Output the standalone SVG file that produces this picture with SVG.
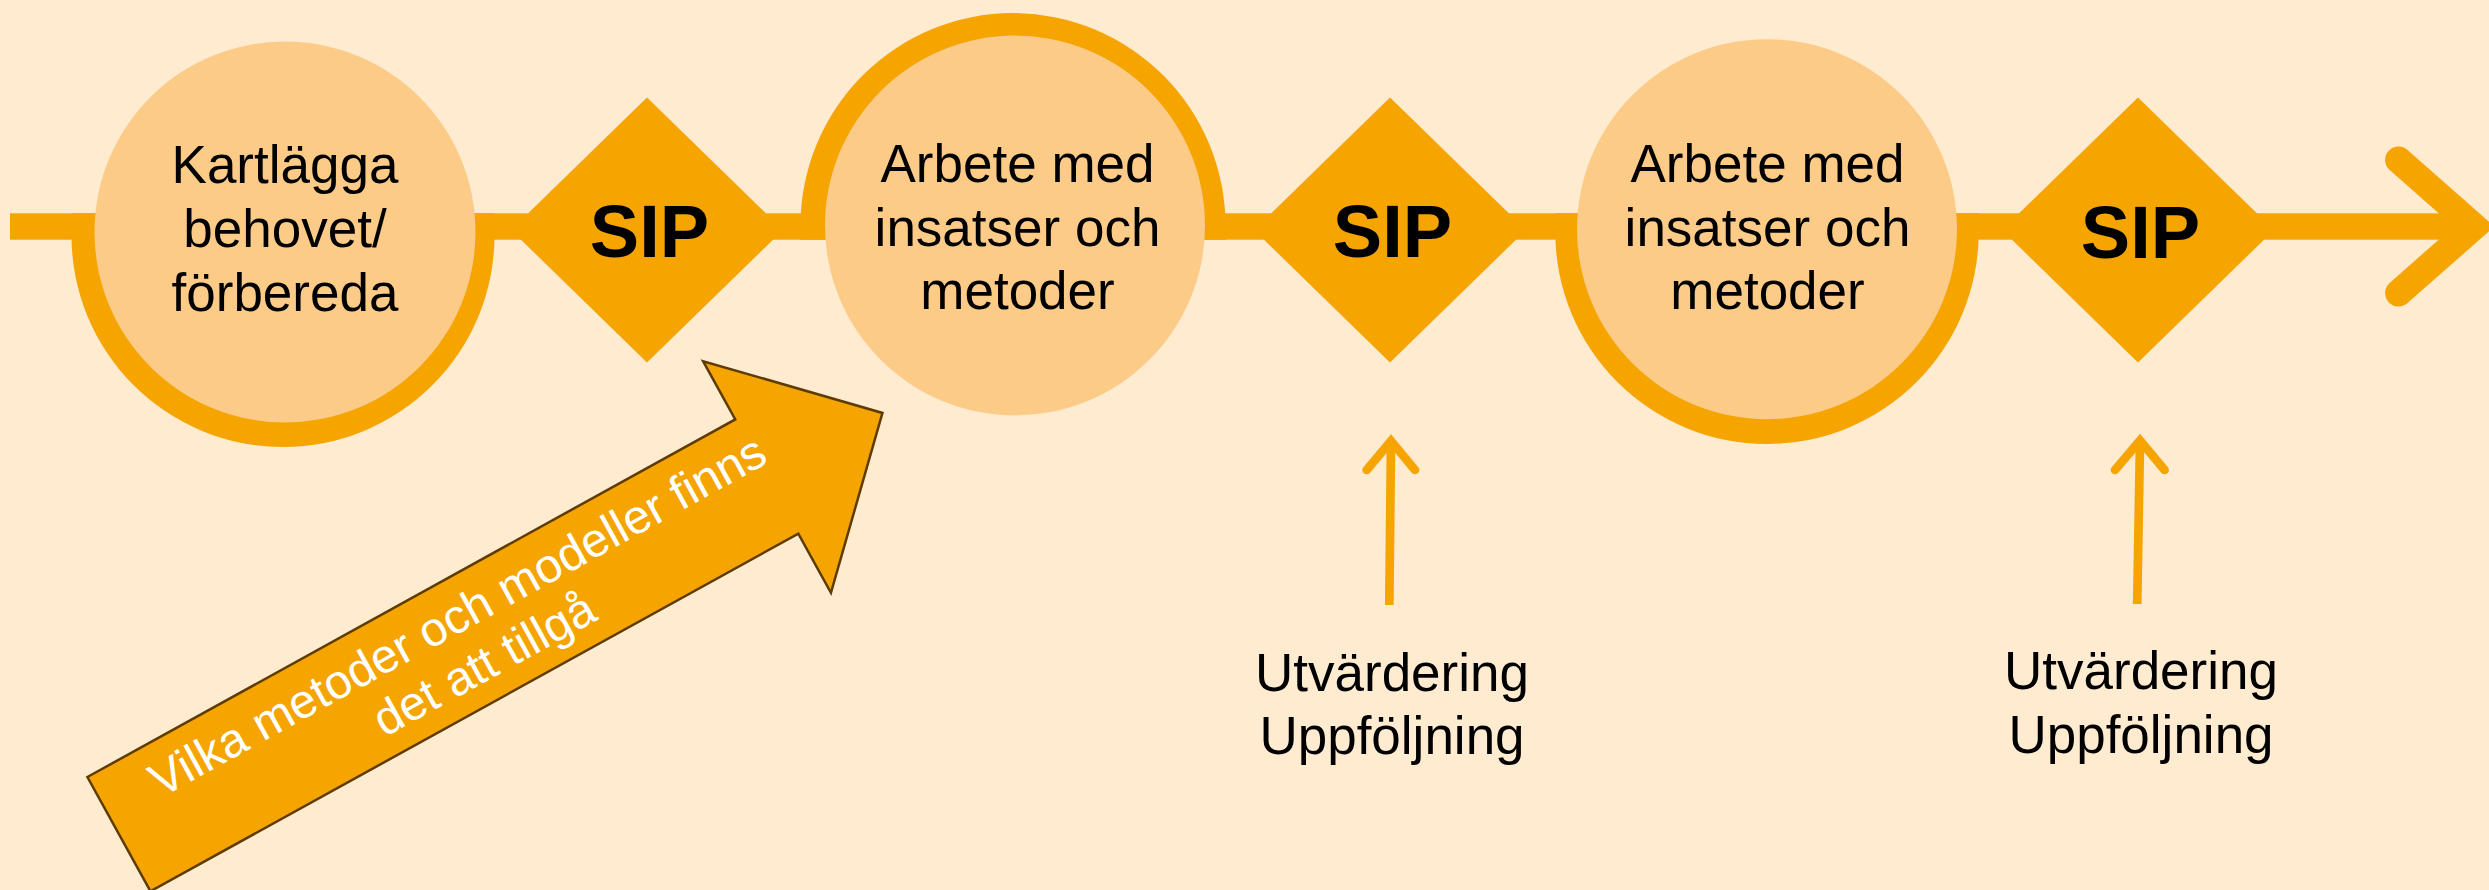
<svg xmlns="http://www.w3.org/2000/svg" width="2489" height="890" viewBox="0 0 2489 890">
  <style>
    .bg { fill: #FEEBD0; }
    .org { fill: #F5A400; }
    .light { fill: #FBCB87; }
    .lbl { font-family: "Liberation Sans", Arial, sans-serif; font-size: 53px; fill: #000000; text-anchor: middle; }
    .sip { font-family: "Liberation Sans", Arial, sans-serif; font-size: 74px; font-weight: bold; fill: #000000; text-anchor: middle; }
    .arrtxt { font-family: "Liberation Sans", Arial, sans-serif; font-size: 48px; fill: #FFFFFF; text-anchor: middle; }
    .thin { fill: none; stroke: #F5A400; stroke-width: 8.7; stroke-linecap: round; stroke-linejoin: miter; }
  </style>
  <rect class="bg" x="0" y="0" width="2489" height="890"/>

  <g id="connectors">
    <!-- main timeline -->
    <rect class="org" x="10" y="213.3" width="2466" height="26.4"/>
    <polyline points="2398.6,160 2474,226.5 2398.6,293" fill="none" stroke="#F5A400" stroke-width="27" stroke-linecap="round" stroke-linejoin="miter"/>
    <!-- ring halves -->
    <path class="org" d="M71.5,235.5 A211.5,211.5 0 0 0 494.5,235.5 L494.5,213.3 L71.5,213.3 Z"/>
    <path class="org" d="M800.5,225.5 A212.5,212.5 0 0 1 1225.5,225.5 L1225.5,239.7 L800.5,239.7 Z"/>
    <path class="org" d="M1555.3,232.5 A211.7,211.7 0 0 0 1978.7,232.5 L1978.7,213.3 L1555.3,213.3 Z"/>
    <!-- evaluation arrows -->
    <line class="thin" x1="1389.3" y1="605" x2="1391" y2="442" style="stroke-linecap:butt"/>
    <polyline class="thin" points="1366.7,470 1391,441 1415,470"/>
    <line class="thin" x1="2137.2" y1="604" x2="2140" y2="441" style="stroke-linecap:butt"/>
    <polyline class="thin" points="2115,470 2140,440.5 2164.6,470"/>
  </g>

  <g id="node-kartlagga">
    <circle class="light" cx="285" cy="232" r="190.5"/>
    <text class="lbl" x="285" y="183.3">Kartlägga</text>
    <text class="lbl" x="285" y="247.3">behovet/</text>
    <text class="lbl" x="285" y="311">förbereda</text>
  </g>

  <g id="node-sip1">
    <polygon class="org" points="647,97.5 783,230 647,362.5 511,230"/>
    <text class="sip" x="649.5" y="256.5">SIP</text>
  </g>

  <g id="node-arbete1">
    <circle class="light" cx="1015" cy="225.5" r="190"/>
    <text class="lbl" x="1017.5" y="181.7">Arbete med</text>
    <text class="lbl" x="1017.5" y="245.7">insatser och</text>
    <text class="lbl" x="1017.5" y="309.3">metoder</text>
  </g>

  <g id="node-sip2">
    <polygon class="org" points="1390,97.5 1526,230 1390,362.5 1254,230"/>
    <text class="sip" x="1392.5" y="257.3">SIP</text>
  </g>

  <g id="node-arbete2">
    <circle class="light" cx="1767" cy="229.2" r="190"/>
    <text class="lbl" x="1767.5" y="181.7">Arbete med</text>
    <text class="lbl" x="1767.5" y="245.7">insatser och</text>
    <text class="lbl" x="1767.5" y="309.3">metoder</text>
  </g>

  <g id="node-sip3">
    <polygon class="org" points="2138,97.5 2274,230 2138,362.5 2002,230"/>
    <text class="sip" x="2140.5" y="258">SIP</text>
  </g>

  <g id="node-eval1">
    <text class="lbl" x="1392" y="690.7">Utvärdering</text>
    <text class="lbl" x="1392" y="754.3">Uppföljning</text>
  </g>

  <g id="node-eval2">
    <text class="lbl" x="2141" y="689.3">Utvärdering</text>
    <text class="lbl" x="2141" y="753">Uppföljning</text>
  </g>

  <g id="node-methods-arrow" transform="rotate(-28.9)">
    <polygon points="-299,722.5 441,722.5 441,656 573,788 441,920.5 441,853 -299,853" fill="#F5A400" stroke="#5E3C00" stroke-width="2.5" stroke-linejoin="miter"/>
    <text class="arrtxt" x="103" y="776.5">Vilka metoder och modeller finns</text>
    <text class="arrtxt" x="103" y="831.5">det att tillgå</text>
  </g>
</svg>
